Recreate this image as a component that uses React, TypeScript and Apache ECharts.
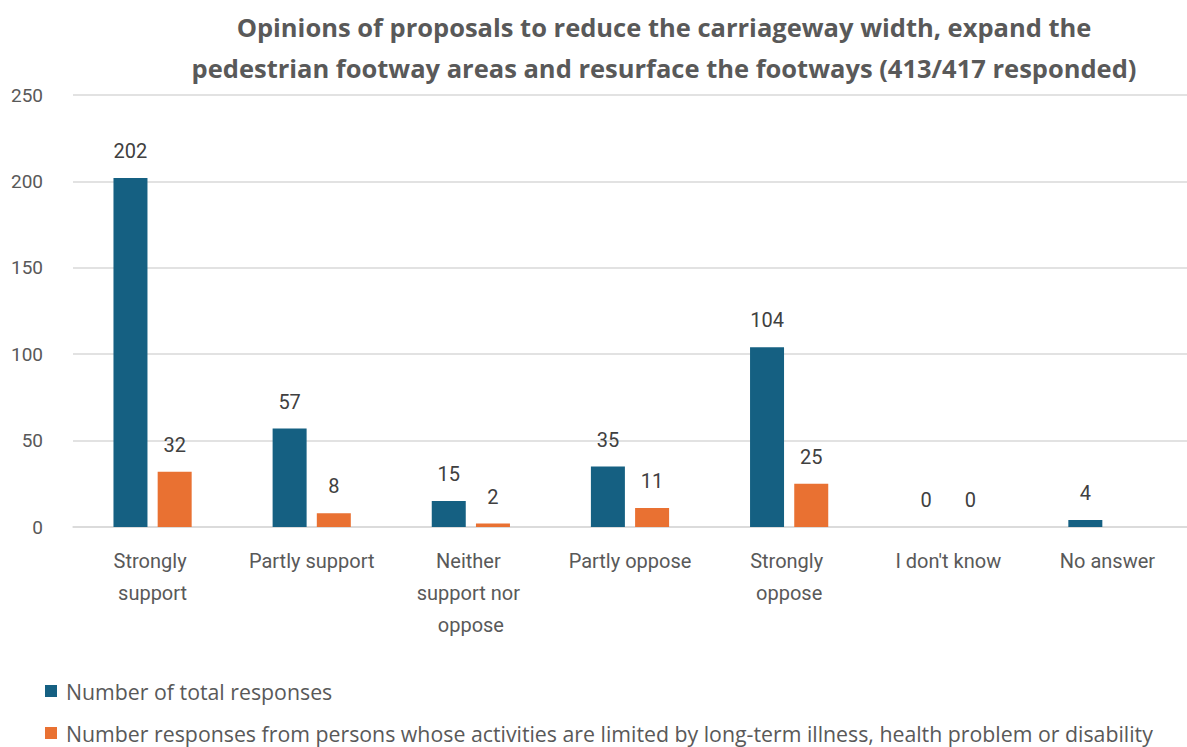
import React, { useEffect, useRef } from "react";
import * as echarts from "echarts";

// Survey answers and counts
const categories = [
  "Strongly support",
  "Partly support",
  "Neither support nor oppose",
  "Partly oppose",
  "Strongly oppose",
  "I don't know",
  "No answer",
];
const totalResponses = [202, 57, 15, 35, 104, 0, 4];
const limitedResponses = [32, 8, 2, 11, 25, 0, null];
const yTicks = { min: 0, max: 250, interval: 50 };

const seriesNames = [
  "Number of total responses",
  "Number responses from persons whose activities are limited by long-term illness, health problem or disability",
];
const titleText =
  "Opinions of proposals to reduce the carriageway width, expand the\npedestrian footway areas and resurface the footways (413/417 responded)";

const FONT = "Roboto, 'Liberation Sans', sans-serif";
const WIDE_FONT = "'Open Sans', 'Noto Sans', sans-serif";
const BLUE = "#156082";
const ORANGE = "#E97132";
const GREY = "#595959";

export default function App() {
  const ref = useRef<HTMLDivElement>(null);

  useEffect(() => {
    document.body.style.margin = "0";
    const chart = echarts.init(ref.current!, null, { renderer: "svg" });
    const valueLabel = {
      show: true,
      position: "top",
      distance: 17,
      fontSize: 20,
      color: "#404040",
      fontFamily: FONT,
    };
    const legendText = {
      fontFamily: WIDE_FONT,
      fontSize: 21.3,
      lineHeight: 24,
      color: GREY,
      padding: [0, 0, 0, 4],
    };
    const legendRow = (top: number, name: string) => ({
      left: 45,
      top,
      padding: 0,
      itemWidth: 12,
      itemHeight: 12,
      icon: "rect",
      textStyle: legendText,
      data: [name],
    });
    chart.setOption({
      animation: false,
      backgroundColor: "#ffffff",
      textStyle: { fontFamily: FONT },
      title: {
        text: titleText,
        left: 659,
        textAlign: "center",
        top: 1,
        textStyle: {
          fontFamily: WIDE_FONT,
          fontSize: 25.5,
          fontWeight: "bold",
          color: GREY,
          lineHeight: 41,
          align: "center",
        },
      },
      // one legend per row, stacked under the axis labels
      legend: [legendRow(679, seriesNames[0]), legendRow(721, seriesNames[1])],
      grid: { left: 73, right: -3, top: 95, bottom: 220, containLabel: false },
      xAxis: {
        type: "category",
        data: categories,
        axisTick: { show: false },
        axisLine: { lineStyle: { color: "#D9D9D9", width: 1.5 } },
        axisLabel: {
          interval: 0,
          margin: 18,
          fontSize: 20,
          lineHeight: 32,
          color: GREY,
          fontFamily: FONT,
          width: 132,
          overflow: "break",
        },
      },
      yAxis: {
        type: "value",
        min: yTicks.min,
        max: yTicks.max,
        interval: yTicks.interval,
        axisLine: { show: false },
        axisTick: { show: false },
        splitLine: { lineStyle: { color: "#D9D9D9", width: 1.5 } },
        axisLabel: { fontSize: 19, color: GREY, fontFamily: FONT, margin: 30 },
      },
      series: [
        {
          name: seriesNames[0],
          type: "bar",
          data: totalResponses,
          barWidth: 34,
          barGap: "30%",
          itemStyle: { color: BLUE },
          label: valueLabel,
        },
        {
          name: seriesNames[1],
          type: "bar",
          data: limitedResponses,
          barWidth: 34,
          barGap: "30%",
          itemStyle: { color: ORANGE },
          label: valueLabel,
        },
      ],
    });
    return () => chart.dispose();
  }, []);

  return <div ref={ref} style={{ width: 1187, height: 747 }} />;
}
